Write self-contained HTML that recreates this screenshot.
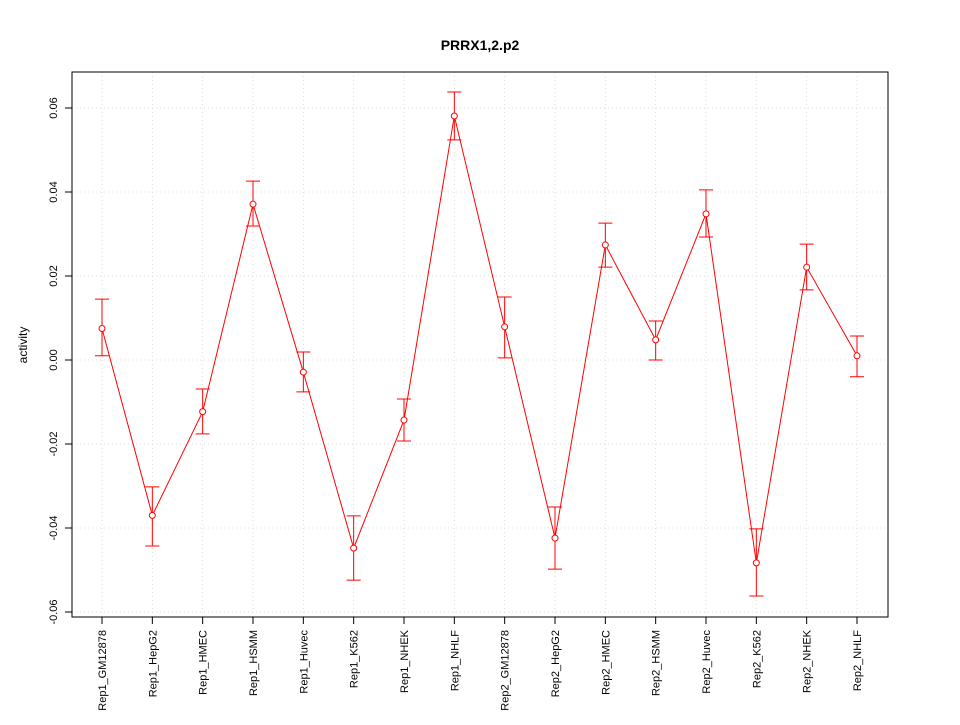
<!DOCTYPE html>
<html><head><meta charset="utf-8"><style>
html,body{margin:0;padding:0;background:#fff}
svg text{font-family:"Liberation Sans",sans-serif;fill:#000}
</style></head><body>
<svg id="chart" width="960" height="720" xmlns="http://www.w3.org/2000/svg">
<text x="480" y="50" text-anchor="middle" font-size="14" font-weight="bold">PRRX1,2.p2</text>
<text transform="translate(27,345) rotate(-90)" text-anchor="middle" font-size="12">activity</text>
<g id="grid"></g><g id="axes"></g><g id="series"></g>
<rect x="72" y="72" width="816" height="545" fill="none" stroke="#000"/>
</svg>
<script>
const categories=["Rep1_GM12878","Rep1_HepG2","Rep1_HMEC","Rep1_HSMM","Rep1_Huvec","Rep1_K562","Rep1_NHEK","Rep1_NHLF","Rep2_GM12878","Rep2_HepG2","Rep2_HMEC","Rep2_HSMM","Rep2_Huvec","Rep2_K562","Rep2_NHEK","Rep2_NHLF"];
const values=[0.0075,-0.037,-0.0123,0.0371,-0.0029,-0.0448,-0.0143,0.0581,0.0079,-0.0424,0.0274,0.0048,0.0348,-0.0483,0.0221,0.001];
const upper=[0.0145,-0.0302,-0.0069,0.0426,0.0019,-0.0371,-0.0093,0.0638,0.015,-0.035,0.0326,0.0093,0.0405,-0.0402,0.0276,0.0057];
const lower=[0.001,-0.0443,-0.0176,0.0319,-0.0076,-0.0524,-0.0193,0.0524,0.0005,-0.0498,0.0221,0,0.0293,-0.0562,0.0167,-0.004];
const yTicks=[-0.06,-0.04,-0.02,0,0.02,0.04,0.06];
const yLabels=["-0.06","-0.04","-0.02","0.00","0.02","0.04","0.06"];
const NS="http://www.w3.org/2000/svg";
const x=i=>102+i*(857-102)/(categories.length-1);
const y=v=>360-v*4200;
function mk(t,a,p){const e=document.createElementNS(NS,t);for(const k in a)e.setAttribute(k,a[k]);p.appendChild(e);return e;}
const grid=document.getElementById('grid'),axes=document.getElementById('axes'),ser=document.getElementById('series');
categories.forEach((c,i)=>{
 const g=mk('line',{x1:x(i),x2:x(i),y1:72,y2:617,stroke:'#d3d3d3','stroke-width':0.8,'stroke-dasharray':'1,3'},grid);
 
 
 const t=mk('line',{x1:x(i),x2:x(i),y1:617,y2:624,stroke:'#000'},axes);
 
 
 const l=mk('text',{transform:`translate(${x(i)+4},630) rotate(-90)`,'text-anchor':'end','font-size':'11'},axes);
 l.textContent=c;
 
 
});
yTicks.forEach((v,i)=>{
 const g=mk('line',{x1:72,x2:888,y1:y(v),y2:y(v),stroke:'#d3d3d3','stroke-width':0.8,'stroke-dasharray':'1,3'},grid);
 
 
 const t=mk('line',{x1:65,x2:72,y1:y(v),y2:y(v),stroke:'#000'},axes);
 
 
 const l=mk('text',{transform:`translate(57,${y(v)}) rotate(-90)`,'text-anchor':'middle','font-size':'11'},axes);
 l.textContent=yLabels[i];
 
 
});
const pl=mk('polyline',{points:values.map((v,i)=>x(i)+','+y(v)).join(' '),fill:'none',stroke:'#f00','stroke-width':1},ser);


values.forEach((v,i)=>{
 const cx=x(i);
 const e=mk('path',{d:`M${cx},${y(upper[i])}V${y(lower[i])}M${cx-7},${y(upper[i])}H${cx+7}M${cx-7},${y(lower[i])}H${cx+7}`,stroke:'#f00',fill:'none','stroke-width':1},ser);
 
 
 const p=mk('circle',{cx:cx,cy:y(v),r:3,fill:'#fff',stroke:'#f00','stroke-width':1},ser);
 
 
});
</script>
</body></html>
